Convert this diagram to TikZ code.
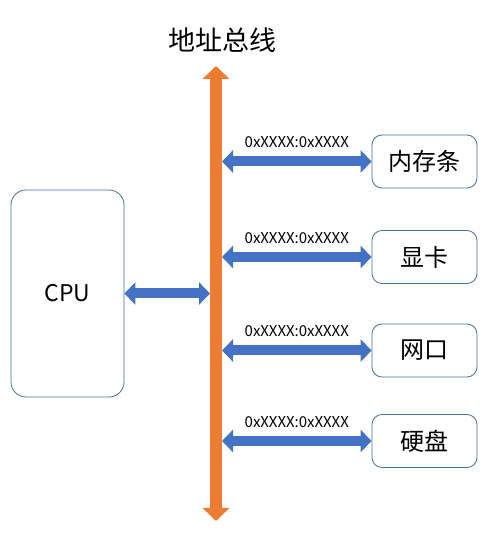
\documentclass[tikz,border=0pt]{standalone}
\usepackage{fontspec}
\setmainfont{Noto Sans CJK SC}
\usetikzlibrary{arrows.meta}
\definecolor{busorange}{HTML}{ED7D31}
\definecolor{linkblue}{HTML}{4472C4}
\definecolor{boxline}{HTML}{41719C}
\tikzset{
  devbox/.style={draw=boxline, line width=0.8pt, rounded corners=10pt, minimum width=105pt, minimum height=53pt, inner sep=0pt, font=\fontsize{24}{28}\selectfont},
  cpubox/.style={draw=boxline, line width=0.8pt, rounded corners=15pt, minimum width=113pt, minimum height=207pt, inner sep=0pt, font=\fontsize{23}{27}\selectfont},
  link/.style={draw=linkblue, line width=10pt, {Triangle[width=22pt,length=11pt]}-{Triangle[width=22pt,length=11pt]}},
  busline/.style={draw=busorange, line width=12pt, {Triangle[width=26pt,length=13pt]}-{Triangle[width=26pt,length=13pt]}},
  addr/.style={font=\fontsize{15}{18}\selectfont, inner sep=0pt, yshift=19pt},
  title/.style={font=\fontsize{27}{32}\selectfont, inner sep=0pt}
}
\begin{document}
\begin{tikzpicture}[x=1pt,y=1pt]
\useasboundingbox[fill=white] (0,0) rectangle (503,557);
\node[title] (title) at (222,517) {地址总线};
\coordinate (bustop) at (216,491);
\coordinate (busbot) at (216,36);
\draw[busline] (bustop) -- (busbot);
\node[cpubox] (cpu) at (67.5,263.5) {CPU};
\node[devbox] (mem) at (424.5,395.5) {内存条};
\node[devbox] (gpu) at (424.5,300) {显卡};
\node[devbox] (net) at (424.5,206.5) {网口};
\node[devbox] (disk) at (424.5,116) {硬盘};
\coordinate (busL) at (210,265);
\coordinate (b1) at (222,395.5);
\coordinate (b2) at (222,300);
\coordinate (b3) at (222,206.5);
\coordinate (b4) at (222,116);
\draw[link] (cpu.east) -- (cpu.east -| busL);
\draw[link] (b1) -- node[addr] (l1) {0xXXXX:0xXXXX} (mem.west);
\draw[link] (b2) -- node[addr] (l2) {0xXXXX:0xXXXX} (gpu.west);
\draw[link] (b3) -- node[addr] (l3) {0xXXXX:0xXXXX} (net.west);
\draw[link] (b4) -- node[addr] (l4) {0xXXXX:0xXXXX} (disk.west);
\end{tikzpicture}
\end{document}
